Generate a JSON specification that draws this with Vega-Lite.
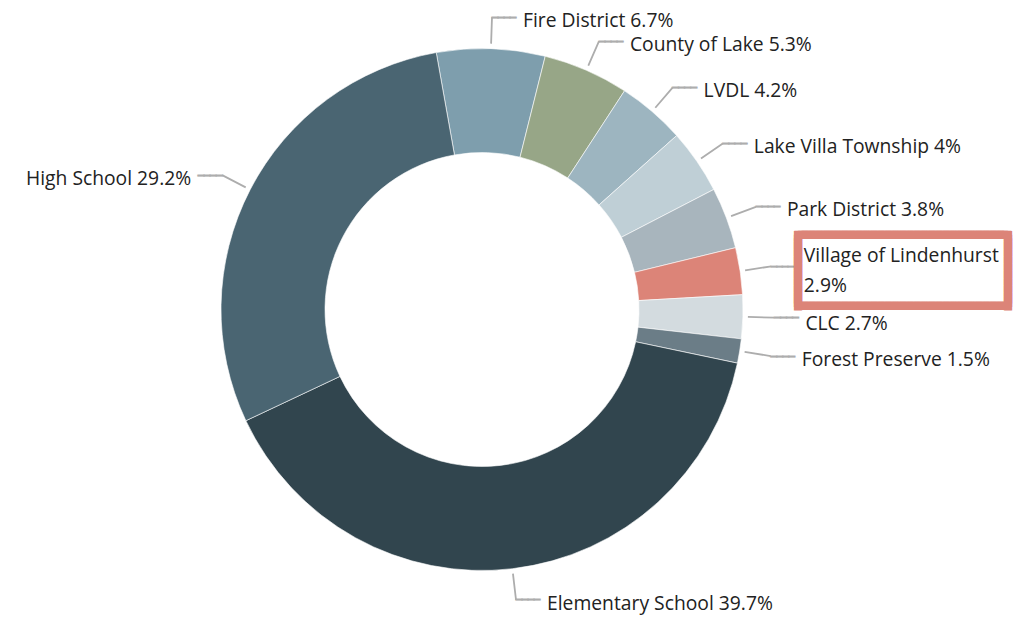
{
  "$schema": "https://vega.github.io/schema/vega-lite/v6.json",
  "autosize": {"type": "none"},
  "width": 964,
  "height": 619,
  "padding": {"left": 0, "top": 0, "right": 60, "bottom": 0},
  "background": "#ffffff",
  "config": {"view": {"stroke": null}},
  "data": {
    "values": [
      {"idx": 1, "category": "Fire District", "pct": 6.7, "label": "Fire District 6.7%"},
      {"idx": 2, "category": "County of Lake", "pct": 5.3, "label": "County of Lake 5.3%"},
      {"idx": 3, "category": "LVDL", "pct": 4.2, "label": "LVDL 4.2%"},
      {"idx": 4, "category": "Lake Villa Township", "pct": 4, "label": "Lake Villa Township 4%"},
      {"idx": 5, "category": "Park District", "pct": 3.8, "label": "Park District 3.8%"},
      {"idx": 6, "category": "Village of Lindenhurst", "pct": 2.9, "label": "Village of Lindenhurst\n2.9%"},
      {"idx": 7, "category": "CLC", "pct": 2.7, "label": "CLC 2.7%"},
      {"idx": 8, "category": "Forest Preserve", "pct": 1.5, "label": "Forest Preserve 1.5%"},
      {"idx": 9, "category": "Elementary School", "pct": 39.7, "label": "Elementary School 39.7%"},
      {"idx": 10, "category": "High School", "pct": 29.2, "label": "High School 29.2%"}
    ]
  },
  "encoding": {
    "theta": {"field": "pct", "type": "quantitative", "stack": true, "scale": {"domain": [0, 100], "range": [-0.1763, 6.1069]}},
    "order": {"field": "idx", "type": "quantitative"},
    "detail": {"field": "category", "type": "nominal"}
  },
  "layer": [
    {
      "mark": {"type": "arc", "innerRadius": 157, "outerRadius": 261, "stroke": "#ffffff", "strokeWidth": 0.6},
      "encoding": {
        "color": {
          "field": "category", "type": "nominal", "legend": null,
          "scale": {
            "domain": ["Fire District", "County of Lake", "LVDL", "Lake Villa Township", "Park District", "Village of Lindenhurst", "CLC", "Forest Preserve", "Elementary School", "High School"],
            "range": ["#7e9ead", "#97a687", "#9db5c0", "#bfcfd6", "#a8b5bd", "#dc8478", "#d3dbdf", "#6b7d87", "#31454e", "#4a6572"]
          }
        }
      }
    },
    {
      "mark": {"type": "arc", "innerRadius": 266, "outerRadius": 292.5, "padAngle": 3.1, "fill": "#adadad", "stroke": "#adadad", "strokeWidth": 1.8}
    },
    {
      "mark": {"type": "text", "radius": 292.5, "align": "left", "baseline": "alphabetic", "font": "DejaVu Sans Mono", "fontSize": 10, "dy": 3.46, "color": "#adadad", "stroke": "#adadad", "strokeWidth": 1.2},
      "encoding": {
        "text": {"condition": {"test": "datum.category !== 'High School' && datum.category !== 'Village of Lindenhurst'", "value": "────"}, "value": ""}
      }
    },
    {
      "mark": {"type": "text", "radius": 292.5, "align": "left", "baseline": "alphabetic", "font": "DejaVu Sans Mono", "fontSize": 9.2, "dy": 3.18, "color": "#adadad", "stroke": "#adadad", "strokeWidth": 1.2},
      "encoding": {
        "text": {"condition": {"test": "datum.category === 'Village of Lindenhurst'", "value": "────"}, "value": ""}
      }
    },
    {
      "mark": {"type": "text", "radius": 292.5, "align": "right", "baseline": "alphabetic", "font": "DejaVu Sans Mono", "fontSize": 10, "dy": 3.46, "color": "#adadad", "stroke": "#adadad", "strokeWidth": 1.2},
      "encoding": {
        "text": {"condition": {"test": "datum.category === 'High School'", "value": "────"}, "value": ""}
      }
    },
    {
      "mark": {"type": "text", "radius": 292.5, "align": "left", "baseline": "alphabetic", "font": "DejaVu Sans Mono", "fontSize": 6.02, "dx": 26.6, "dy": -29.3, "color": "#dc8478", "stroke": "#dc8478", "strokeWidth": 7.1},
      "encoding": {
        "text": {"condition": {"test": "datum.category === 'Village of Lindenhurst'", "value": "━━━━━━━━━━━━━━━━━━━━━━━━━━━━━━━━━━━━━━━━━━━━━━━━━━━━━━━━━━"}, "value": ""}
      }
    },
    {
      "mark": {"type": "text", "radius": 292.5, "align": "left", "baseline": "alphabetic", "font": "DejaVu Sans Mono", "fontSize": 6.02, "dx": 26.6, "dy": 41.2, "color": "#dc8478", "stroke": "#dc8478", "strokeWidth": 7.1},
      "encoding": {
        "text": {"condition": {"test": "datum.category === 'Village of Lindenhurst'", "value": "━━━━━━━━━━━━━━━━━━━━━━━━━━━━━━━━━━━━━━━━━━━━━━━━━━━━━━━━━━"}, "value": ""}
      }
    },
    {
      "mark": {"type": "text", "radius": 292.5, "align": "left", "baseline": "alphabetic", "angle": 90, "font": "DejaVu Sans Mono", "fontSize": 6.02, "dx": -31.8, "dy": -24.6, "color": "#dc8478", "stroke": "#dc8478", "strokeWidth": 7.1},
      "encoding": {
        "text": {"condition": {"test": "datum.category === 'Village of Lindenhurst'", "value": "━━━━━━━━━━━━━━━━━━━━"}, "value": ""}
      }
    },
    {
      "mark": {"type": "text", "radius": 292.5, "align": "left", "baseline": "alphabetic", "angle": 90, "font": "DejaVu Sans Mono", "fontSize": 6.02, "dx": -31.8, "dy": -234.6, "color": "#dc8478", "stroke": "#dc8478", "strokeWidth": 7.1},
      "encoding": {
        "text": {"condition": {"test": "datum.category === 'Village of Lindenhurst'", "value": "━━━━━━━━━━━━━━━━━━━━"}, "value": ""}
      }
    },
    {
      "mark": {"type": "text", "radius": 292.5, "align": "left", "baseline": "alphabetic", "font": "Open Sans", "fontSize": 19.3, "dx": 31, "dy": 9.5, "color": "#222222"},
      "encoding": {
        "text": {"condition": {"test": "datum.category !== 'High School' && datum.category !== 'Village of Lindenhurst' && datum.category !== 'CLC'", "field": "label", "type": "nominal"}, "value": ""}
      }
    },
    {
      "mark": {"type": "text", "radius": 292.5, "align": "left", "baseline": "alphabetic", "font": "Open Sans", "fontSize": 19.3, "dx": 31, "dy": 12, "color": "#222222"},
      "encoding": {
        "text": {"condition": {"test": "datum.category === 'CLC'", "field": "label", "type": "nominal"}, "value": ""}
      }
    },
    {
      "mark": {"type": "text", "radius": 292.5, "align": "right", "baseline": "alphabetic", "font": "Open Sans", "fontSize": 19.3, "dx": -31, "dy": 9.5, "color": "#222222"},
      "encoding": {
        "text": {"condition": {"test": "datum.category === 'High School'", "field": "label", "type": "nominal"}, "value": ""}
      }
    },
    {
      "mark": {"type": "text", "radius": 292.5, "align": "left", "baseline": "alphabetic", "font": "Open Sans", "fontSize": 19.3, "lineBreak": "\n", "lineHeight": 30, "dx": 32.5, "dy": -4.7, "color": "#222222"},
      "encoding": {
        "text": {"condition": {"test": "datum.category === 'Village of Lindenhurst'", "field": "label", "type": "nominal"}, "value": ""}
      }
    }
  ]
}
